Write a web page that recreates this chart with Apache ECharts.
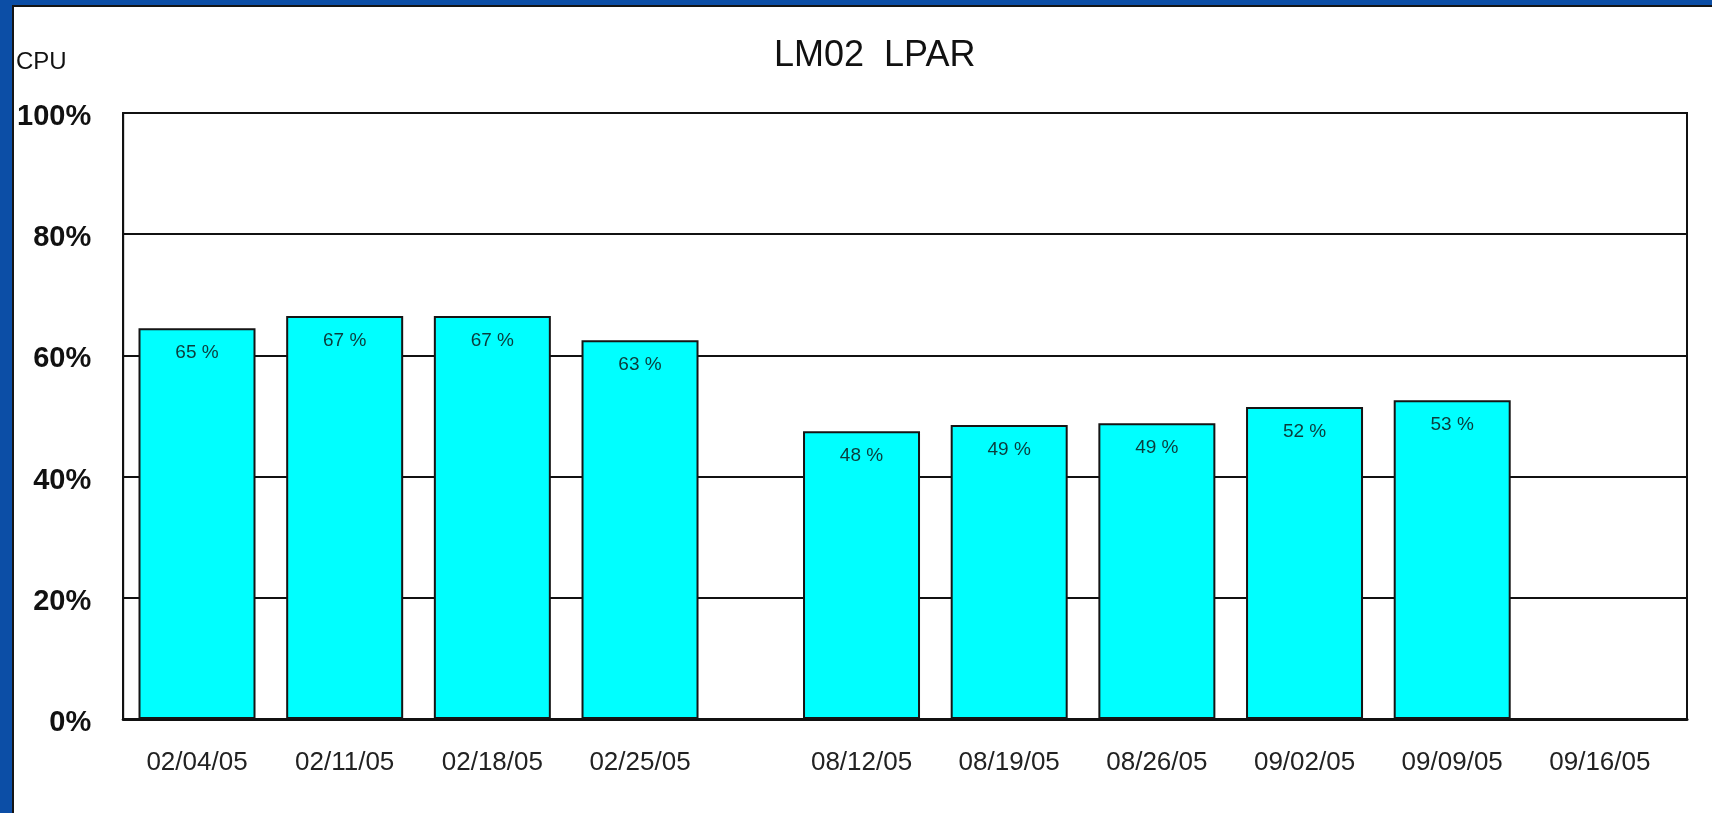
<!DOCTYPE html>
<html>
<head>
<meta charset="utf-8">
<title>LM02 LPAR</title>
<style>
  html, body { margin: 0; padding: 0; width: 1712px; height: 813px; overflow: hidden; background: #0c4ea6; }
  #chart {
    position: absolute; left: 12px; top: 5px; right: 0; bottom: 0;
    background: #fff; border-left: 2px solid #151515; border-top: 2px solid #151515;
  }
</style>
<script src="https://cdn.jsdelivr.net/npm/echarts@6/dist/echarts.min.js"></script>
</head>
<body>
<div id="chart"></div>
<script>
// 日期（09/16/05 没有数据）
const dates = ['02/04/05', '02/11/05', '02/18/05', '02/25/05', '08/12/05', '08/19/05', '08/26/05', '09/02/05', '09/09/05', '09/16/05']
// CPU 使用率 (%)
const cpuValues = [64.5, 66.5, 66.5, 62.5, 47.5, 48.5, 48.8, 51.5, 52.6, null]
const yTicks = [0, 20, 40, 60, 80, 100]

// 二月和八月之间留半格空隙
const gapAfter = 4
const pos = dates.map((d, i) => i + 1 + (i >= gapAfter ? 0.5 : 0))

const findDate = (v) => {
    const i = pos.findIndex(p => Math.abs(p - v) < 1e-6)
    return i >= 0 ? dates[i] : ''
}

const myChart = echarts.init(document.getElementById('chart'))

const option = {
    animation: false,
    title: [
        {
            text: 'LM02  LPAR',
            left: 760,
            top: 31,
            padding: 0,
            textStyle: { fontFamily: 'Liberation Sans, Arial, sans-serif', fontSize: 36, fontWeight: 'normal', color: '#111' }
        },
        {
            text: 'CPU',
            left: 2,
            top: 43,
            padding: 0,
            textStyle: { fontFamily: 'Liberation Sans, Arial, sans-serif', fontSize: 24, fontWeight: 'normal', color: '#111' }
        }
    ],
    grid: {
        left: 106,
        top: 106,
        right: 25,
        bottom: 94,
        show: true,
        borderColor: '#111',
        borderWidth: 2,
        backgroundColor: '#fff'
    },
    xAxis: {
        type: 'value',
        min: 0.5,
        max: 11.09,
        interval: 0.5,
        axisLine: { show: true, onZero: false, lineStyle: { color: '#111', width: 3 } },
        axisTick: { show: false },
        splitLine: { show: false },
        axisLabel: {
            margin: 31,
            showMaxLabel: false,
            fontFamily: 'Liberation Sans, Arial, sans-serif',
            fontSize: 26,
            color: '#222',
            formatter: (v) => findDate(v)
        }
    },
    yAxis: {
        type: 'value',
        min: yTicks[0],
        max: yTicks[yTicks.length - 1],
        interval: yTicks[1] - yTicks[0],
        axisLine: { show: true, lineStyle: { color: '#111', width: 2 } },
        axisTick: { show: false },
        splitLine: { show: true, lineStyle: { color: '#111', width: 2 } },
        axisLabel: {
            margin: 32,
            fontFamily: 'Liberation Sans, Arial, sans-serif',
            fontSize: 29,
            fontWeight: 'bold',
            color: '#111',
            formatter: (v) => '{p|' + v + '%}',
            rich: {
                p: {
                    padding: [8, 0, 0, 0],
                    fontFamily: 'Liberation Sans, Arial, sans-serif',
                    fontSize: 29,
                    fontWeight: 'bold',
                    color: '#111'
                }
            }
        }
    },
    series: [
        {
            type: 'bar',
            barWidth: 117,
            data: cpuValues.map((v, i) => [pos[i], v]),
            itemStyle: { color: '#00ffff', borderColor: '#151515', borderWidth: 2 },
            label: {
                show: true,
                position: 'insideTop',
                distance: 15,
                fontFamily: 'Liberation Sans, Arial, sans-serif',
                fontSize: 19,
                color: '#0b3c3c',
                formatter: (p) => Math.round(p.value[1]) + ' %'
            }
        }
    ]
}

myChart.setOption(option, true)
</script>
</body>
</html>
